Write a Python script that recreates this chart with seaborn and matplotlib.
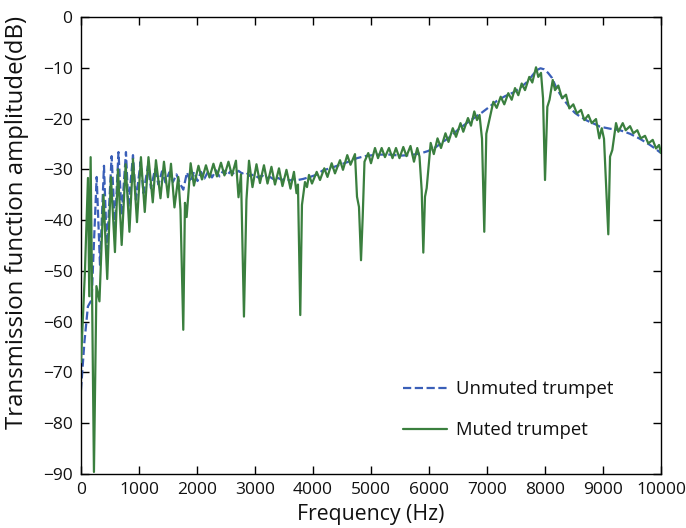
import matplotlib
matplotlib.use("Agg")
import matplotlib.pyplot as plt
import seaborn as sns
import pandas as pd

# ---------------- data ----------------
unmuted_freq = [0, 60, 120, 184, 271, 328, 397, 448, 529, 586, 647, 702, 776, 819,
                897, 948, 1029, 1078, 1155, 1207, 1276, 1336, 1397, 1457, 1522, 1586,
                1647, 1707, 1764, 1828, 1888, 1948, 2009, 2069, 2129, 2198, 2259, 2328,
                2388, 2457, 2517, 2586, 2647, 2716, 2776, 2845, 2914, 2983, 3052, 3121,
                3190, 3259, 3328, 3397, 3466, 3534, 3603, 3672, 3741, 3828, 3948, 4052,
                4172, 4293, 4466, 4638, 4759, 4897, 5034, 5155, 5328, 5500, 5672, 5845,
                5983, 6121, 6241, 6362, 6500, 6638, 6776, 6914, 7052, 7172, 7310, 7448,
                7569, 7690, 7776, 7853, 7922, 7983, 8052, 8121, 8190, 8259, 8345, 8431,
                8517, 8603, 8690, 8776, 8862, 8948, 9121, 9293, 9466, 9638, 9810, 9897,
                10000]
unmuted_db = [-73.5, -64, -57, -55.7, -31.5, -48.8, -29.3, -45.9, -27.4, -41.3, -26.6, -39.0,
              -26.6, -37.4, -27.2, -36.0, -28.5, -34.7, -29.3, -33.7, -30.0, -33.0, -30.4,
              -32.6, -30.6, -32.5, -31.0, -32.8, -34.0, -30.6, -32.5, -30.5, -32.3, -30.5,
              -31.8, -30.3, -31.6, -30.2, -31.4, -30.2, -31.2, -30.3, -31.0, -30.3, -30.8,
              -30.6, -31.3, -31.0, -31.6, -31.2, -31.8, -31.5, -32.0, -31.7, -32.1, -31.8,
              -32.2, -31.9, -32.1, -31.9, -31.5, -31.1, -30.2, -29.8, -29.1, -28.4, -27.8,
              -27.4, -27.2, -27.1, -27.1, -27.3, -27.2, -26.9, -26.4, -25.6, -24.6, -23.6,
              -22.2, -21.0, -19.9, -18.8, -17.6, -16.5, -15.6, -14.9, -14.0, -12.8, -11.6,
              -10.5, -10.1, -10.3, -11.0, -12.0, -13.8, -15.2, -16.6, -17.9, -18.9, -19.6,
              -20.2, -20.7, -21.1, -21.6, -22.0, -22.3, -23.0, -24.0, -25.2, -25.9, -26.8]

muted_freq = [0, 69, 121, 143, 167, 224, 267, 319, 388, 453, 517, 586, 638, 702, 771,
              836, 897, 966, 1034, 1100, 1164, 1238, 1293, 1371, 1431, 1500, 1552, 1612,
              1678, 1716, 1764, 1793, 1822, 1891, 1948, 2026, 2086, 2155, 2216, 2284, 2345,
              2414, 2474, 2543, 2603, 2672, 2716, 2759, 2810, 2853, 2897, 2957, 3026, 3086,
              3155, 3216, 3284, 3345, 3414, 3474, 3543, 3612, 3672, 3716, 3741, 3781, 3810,
              3862, 3897, 3931, 3983, 4064, 4121, 4195, 4250, 4322, 4379, 4466, 4517, 4591,
              4647, 4724, 4759, 4793, 4828, 4857, 4888, 4914, 4953, 5000, 5069, 5121, 5184,
              5241, 5310, 5371, 5431, 5491, 5557, 5612, 5681, 5741, 5798, 5836, 5874, 5902,
              5931, 5960, 6029, 6083, 6147, 6207, 6284, 6336, 6410, 6466, 6543, 6591, 6672,
              6724, 6781, 6828, 6871, 6914, 6953, 6988, 7026, 7109, 7167, 7236, 7298, 7367,
              7426, 7483, 7540, 7598, 7655, 7729, 7781, 7845, 7884, 7931, 7966, 8000, 8040,
              8078, 8133, 8172, 8229, 8293, 8362, 8419, 8488, 8550, 8621, 8678, 8747, 8805,
              8879, 8936, 8978, 9017, 9091, 9121, 9160, 9224, 9264, 9340, 9391, 9466, 9522,
              9591, 9650, 9724, 9781, 9857, 9914, 9966, 10000]
muted_db = [-68, -50, -31.7, -55, -27.6, -89.6, -53, -56, -35, -51.6, -31.5, -46.3, -30,
            -44.9, -29, -42.3, -28, -40.4, -27.6, -38.4, -27.6, -36.5, -28.2, -35.7, -28.5,
            -35.5, -28.9, -37.5, -31.5, -38, -61.6, -36.6, -39.4, -28.8, -33.2, -29.3, -32,
            -29.2, -31.6, -28.9, -31.4, -28.7, -31.2, -28.5, -31.2, -28.3, -35.5, -31, -59,
            -36, -28.3, -33.5, -29, -32.7, -29.2, -32.8, -29.5, -33, -29.8, -33.3, -30.1,
            -33.8, -30.5, -34.7, -33, -58.7, -37, -32.5, -33.5, -31.1, -32.8, -30.5, -32.1,
            -29.8, -31.5, -28.8, -30.8, -28.2, -30.1, -27.2, -29.1, -27, -35.4, -37.4, -47.9,
            -39.4, -28.5, -27.8, -26.8, -28.8, -25.8, -27.8, -25.8, -27.6, -25.8, -27.8,
            -25.8, -27.8, -25.6, -27.4, -25.4, -28.5, -25.8, -27.5, -34.1, -46.4, -35.4,
            -33.7, -24.8, -27, -23.9, -25.8, -22.9, -24.6, -21.9, -23.6, -20.9, -22.6, -19.9,
            -21.4, -18.6, -20.3, -19.3, -24, -42.3, -23, -21, -16.7, -17.9, -15.7, -17.2,
            -15, -16.3, -14, -15.4, -13.1, -14.4, -11.8, -12.9, -9.9, -11.8, -11, -16,
            -32.1, -17.7, -16.3, -12.4, -14.4, -13.5, -16, -15.3, -18, -17.2, -19, -18.3,
            -20.3, -19.3, -20.9, -20.1, -23.9, -21.9, -24, -42.8, -27.5, -26.2, -20.9,
            -22.6, -20.9, -22.3, -21.5, -22.9, -22.3, -23.9, -23.4, -24.9, -24.2, -25.9,
            -25.2, -26.8]

series_labels = ["Unmuted trumpet", "Muted trumpet"]
x_ticks = list(range(0, 10001, 1000))
y_ticks = list(range(-90, 1, 10))

# ---------------- style ----------------
sns.set_theme(style="ticks")
plt.rcParams["font.family"] = ["Open Sans", "DejaVu Sans"]
plt.rcParams.update({
    "xtick.direction": "in", "ytick.direction": "in",
    "xtick.top": True, "ytick.right": True,
    "xtick.major.size": 6, "ytick.major.size": 6,
    "xtick.major.width": 1.0, "ytick.major.width": 1.0,
    "axes.edgecolor": "black", "axes.linewidth": 1.0,
    "xtick.color": "black", "ytick.color": "black",
    "text.color": "#111111", "axes.labelcolor": "#111111",
    "xtick.labelcolor": "#111111", "ytick.labelcolor": "#111111",
})

df_u = pd.DataFrame({"Frequency": unmuted_freq, "dB": unmuted_db})
df_m = pd.DataFrame({"Frequency": muted_freq, "dB": muted_db})

fig = plt.figure(figsize=(6.86, 5.28), dpi=100)
ax = fig.add_axes([0.118, 0.1023, 0.8456, 0.8655])

sns.lineplot(data=df_u, x="Frequency", y="dB", ax=ax, estimator=None, sort=False,
             color="#3a5fb8", linewidth=1.6, linestyle="--", label=series_labels[0],
             zorder=2)
sns.lineplot(data=df_m, x="Frequency", y="dB", ax=ax, estimator=None, sort=False,
             color="#3a7f3e", linewidth=1.6, label=series_labels[1], zorder=3)

ax.set_xlim(0, 10000)
ax.set_ylim(-90, 0)
ax.set_xticks(x_ticks)
ax.set_yticks(y_ticks)
ax.tick_params(labelsize=12.5, pad=6)
ax.set_xlabel("Frequency (Hz)", fontsize=15.3)
ax.set_ylabel("Transmission function amplitude(dB)", fontsize=17.3)
ax.xaxis.set_label_coords(0.5, -0.066)
ax.yaxis.set_label_coords(-0.09, 0.551)

leg = ax.legend(loc="upper left", bbox_to_anchor=(0.555, 0.205), frameon=False,
                fontsize=13.3, handlelength=2.4, handletextpad=0.5,
                labelspacing=1.25, borderpad=0, borderaxespad=0)

fig.savefig("out.png", dpi=100)
